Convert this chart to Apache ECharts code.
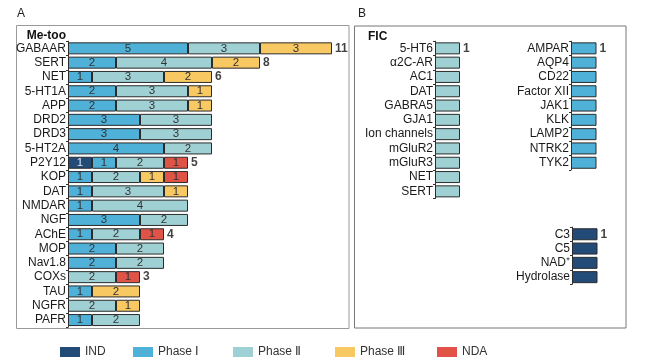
<!DOCTYPE html>
<html><head><meta charset="utf-8">
<script src="https://cdn.jsdelivr.net/npm/echarts@6/dist/echarts.min.js"></script>
<style>html,body{margin:0;padding:0;background:#fff}#c{width:646px;height:360px}</style>
</head><body><div id="c"></div>
<script>
// ---------- DATA ----------
const phases = ['IND', 'Phase Ⅰ', 'Phase Ⅱ', 'Phase Ⅲ', 'NDA'];
const catsA = ['GABAAR','SERT','NET','5-HT1A','APP','DRD2','DRD3','5-HT2A','P2Y12','KOP','DAT','NMDAR','NGF','AChE','MOP','Nav1.8','COXs','TAU','NGFR','PAFR'];
const indA    = [0,0,0,0,0,0,0,0,1,0,0,0,0,0,0,0,0,0,0,0];
const phase1A = [5,2,1,2,2,3,3,4,1,1,1,1,3,1,2,2,0,1,0,1];
const phase2A = [3,4,3,3,3,3,3,2,2,2,3,4,2,2,2,2,2,0,2,2];
const phase3A = [3,2,2,1,1,0,0,0,0,1,1,0,0,0,0,0,0,2,1,0];
const ndaA    = [0,0,0,0,0,0,0,0,1,1,0,0,0,1,0,0,1,0,0,0];
const totalCatsA = ['GABAAR','SERT','NET','P2Y12','AChE','COXs'];
const totalValsA = [11,8,6,5,4,3];

const catsB1 = ['5-HT6','α2C-AR','AC1','DAT','GABRA5','GJA1','Ion channels','mGluR2','mGluR3','NET','SERT'];
const valsB1 = [1,1,1,1,1,1,1,1,1,1,1];
const catsB2 = ['AMPAR','AQP4','CD22','Factor XII','JAK1','KLK','LAMP2','NTRK2','TYK2'];
const valsB2 = [1,1,1,1,1,1,1,1,1];
const catsB3 = ['C3','C5','NAD⁺','Hydrolase'];
const valsB3 = [1,1,1,1];
const totalsB = [['5-HT6',1],['AMPAR',1],['C3',1]];

// ---------- STYLE ----------
const colors = {'IND':'#234b78','Phase Ⅰ':'#4fb0d8','Phase Ⅱ':'#9fd0d4','Phase Ⅲ':'#f8c863','NDA':'#e05447'};
const FONT = 'Liberation Sans, Arial, sans-serif';
const ROW = 14.3;
const topA = 41.2;

const chart = echarts.init(document.getElementById('c'), null, {renderer:'canvas'});

function yAxisCfg(gridIndex, cats){
  return {type:'category', gridIndex, data:cats, inverse:true,
    axisLine:{show:true, lineStyle:{color:'#333', width:1}},
    axisTick:{show:true, length:2, lineStyle:{color:'#333'}},
    axisLabel:{color:'#1a1a1a', fontSize:12, fontFamily:FONT, margin:2, interval:0},
    splitLine:{show:false}};
}
function xAxisCfg(gridIndex, max){
  return {type:'value', gridIndex, min:0, max, show:false, splitLine:{show:false}};
}
function barSeries(name, vals, xi, stack){
  return {type:'bar', name, xAxisIndex:xi, yAxisIndex:xi, stack, barWidth:12,
    data: vals.map(v => v > 0 ? v : '-'),
    itemStyle:{color:colors[name], borderColor:'#2b2b2b', borderWidth:1},
    label:{show:xi===0, position:'inside', color: name === 'IND' ? '#d8e4f0' : '#333', fontSize:11.5, fontFamily:FONT, formatter: p => p.value},
    emphasis:{disabled:true}, animation:false};
}
function totalSeries(xi, data){
  return {type:'scatter', xAxisIndex:xi, yAxisIndex:xi, symbolSize:0, data,
    label:{show:true, position:'right', distance:3, formatter: p => p.value[0], color:'#111', fontWeight:'bold', fontSize:12, fontFamily:FONT},
    silent:true, animation:false};
}

const series = [];
const aVals = [indA, phase1A, phase2A, phase3A, ndaA];
phases.forEach((ph, i) => series.push(barSeries(ph, aVals[i], 0, 'a')));
series.push(totalSeries(0, totalCatsA.map((c, i) => [totalValsA[i], c])));
series.push(barSeries('Phase Ⅱ', valsB1, 1, 'b1'));
series.push(barSeries('Phase Ⅰ', valsB2, 2, 'b2'));
series.push(barSeries('IND', valsB3, 3, 'b3'));
series.push(totalSeries(1, [[totalsB[0][1], totalsB[0][0]]]));
series.push(totalSeries(2, [[totalsB[1][1], totalsB[1][0]]]));
series.push(totalSeries(3, [[totalsB[2][1], totalsB[2][0]]]));

const legendLefts = [55, 128, 228, 330, 432];
const legends = phases.map((ph, i) => ({
  data:[ph], left:legendLefts[i], top:341, itemWidth:20, itemHeight:10, icon:'rect',
  itemStyle:{borderWidth:0}, textStyle:{color:'#333', fontSize:12, fontFamily:FONT}, selectedMode:false
}));

chart.setOption({
  animation:false,
  textStyle:{fontFamily:FONT},
  grid:[
    {left:68, top:topA, width:264, height:ROW*catsA.length},
    {left:435, top:topA, width:25, height:ROW*catsB1.length},
    {left:571, top:topA, width:25.5, height:ROW*catsB2.length},
    {left:572, top:topA + ROW*13, width:25.5, height:ROW*catsB3.length}
  ],
  xAxis:[xAxisCfg(0,11), xAxisCfg(1,1), xAxisCfg(2,1), xAxisCfg(3,1)],
  yAxis:[yAxisCfg(0,catsA), yAxisCfg(1,catsB1), yAxisCfg(2,catsB2), yAxisCfg(3,catsB3)],
  legend: legends,
  series,
  graphic:[
    {type:'rect', shape:{x:16.5, y:25.5, width:332.5, height:303}, style:{fill:'none', stroke:'#999', lineWidth:1}, silent:true},
    {type:'rect', shape:{x:354.5, y:26, width:271.5, height:302}, style:{fill:'none', stroke:'#777', lineWidth:1}, silent:true},
    {type:'text', left:17, top:8, style:{text:'A', fontSize:12, fill:'#222', fontFamily:FONT}},
    {type:'text', left:358, top:8, style:{text:'B', fontSize:12, fill:'#222', fontFamily:FONT}},
    {type:'text', x:66, y:36, style:{text:'Me-too', fontSize:12, fontWeight:'bold', fill:'#111', fontFamily:FONT, align:'right', verticalAlign:'middle'}},
    {type:'text', x:368, y:37, style:{text:'FIC', fontSize:12, fontWeight:'bold', fill:'#111', fontFamily:FONT, align:'left', verticalAlign:'middle'}}
  ]
});
</script></body></html>
